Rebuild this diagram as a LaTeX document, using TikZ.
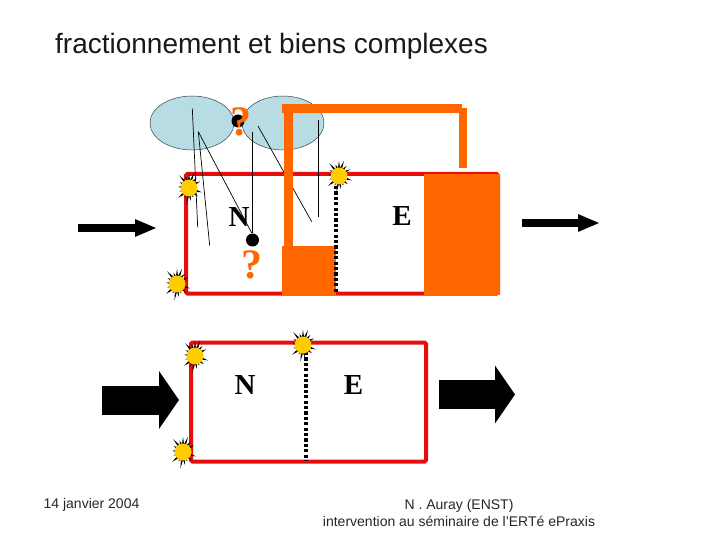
\documentclass[tikz,border=0pt]{standalone}
\usepackage{fontspec}
\setmainfont{Liberation Sans}
\newfontfamily\serifb{Liberation Serif}[BoldFont={Liberation Serif Bold}]
\usetikzlibrary{shapes.symbols,shapes.geometric,arrows.meta}
\definecolor{redl}{HTML}{E60D0D}
\definecolor{orangef}{HTML}{FF6600}
\definecolor{cellb}{HTML}{B8DCE4}
\definecolor{sun}{HTML}{FFCC00}
\tikzset{
  redbox/.style={draw=redl,line width=4pt,rounded corners=1.5pt},
  orangeblock/.style={fill=orangef,draw=none},
  orangeline/.style={draw=orangef,line width=8.5pt},
  cell/.style={ellipse,draw=black!70!cellb,line width=0.5pt,fill=cellb,inner sep=0pt},
  thinl/.style={draw=black,line width=0.7pt},
  bound/.style={draw=black,line width=4pt,dash pattern=on 3.2pt off 2.2pt},
  core/.style={circle,fill=sun,draw=none,minimum size=17pt,inner sep=0pt},
  burst/.style={starburst,starburst points=17,starburst point height=8pt,fill=sun,draw=black,line width=0.7pt,minimum width=25pt,minimum height=30pt,inner sep=0pt,
    append after command={node[core] at (\tikzlastnode.center) {}}},
  letter/.style={font=\serifb\bfseries\fontsize{29}{29}\selectfont,text=black,inner sep=0pt},
  query/.style={font=\serifb\bfseries\fontsize{42}{42}\selectfont,text=orangef,inner sep=0pt},
  foot/.style={font=\fontsize{14}{17}\selectfont,text=black!85,inner sep=0pt,align=center},
  thinarrow/.style={draw=black,line width=7.5pt,-{Triangle[length=22pt,width=16pt]}},
  bigarrow/.style={draw=black,line width=29pt,-{Triangle[length=20pt,width=57pt]}},
  dot/.style={circle,fill=black,inner sep=0pt,minimum size=13pt}
}
\begin{document}
\begin{tikzpicture}[x=1pt,y=-1pt]
\useasboundingbox (0,0) rectangle (720,540);
\node[inner sep=0pt,font=\fontsize{28}{32}\selectfont,text=black!90] (title) at (271.5,46) {fractionnement et biens complexes};
% cells
\node[cell,minimum width=84pt,minimum height=54pt] (cellL) at (192,123) {};
\node[cell,minimum width=82pt,minimum height=54pt] (cellR) at (283,123) {};
\node[circle,fill=black,inner sep=0pt,minimum size=13pt] (dotT) at (238,121) {};
\node[query] (qT) at (241,121.5) {?};
% upper frame
\draw[redbox] (186,174) rectangle (498,293.5);
\coordinate (a1) at (192.3,108.3); \coordinate (a2) at (197.7,227.3);
\coordinate (b1) at (198.3,131.7); \coordinate (b2) at (209.7,245.7);
\coordinate (c2) at (251.7,233);
\coordinate (d1) at (252.7,131.7); \coordinate (d2) at (252.7,233);
\coordinate (e1) at (258,126); \coordinate (e2) at (311.7,221.7);
\coordinate (f1) at (318.3,120); \coordinate (f2) at (318.3,216.7);
\node[letter] (N1) at (239,217) {N};
\draw[thinl] (a1)--(a2);
\draw[thinl] (b1)--(b2);
\draw[thinl] (b1)--(c2);
\draw[thinl] (d1)--(d2);
\draw[thinl] (e1)--(e2);
\draw[thinl] (f1)--(f2);
\node[letter] (E1) at (402,216) {E};
\node[dot] (dotB) at (252.5,240) {};
\node[query] (qB) at (252,265) {?};
% orange
\fill[orangeblock] (424,174) rectangle (500,295);
\fill[orangeblock] (282,246) rectangle (336,295);
\draw[orangeline] (288.5,246) -- (288.5,104);
\fill[orangeblock] (282,104) rectangle (462,113);
\draw[orangeline] (463,108) -- (463,168);
% boundaries
\coordinate (u1) at (336,186); \coordinate (u2) at (336,293);
\draw[bound] (u1)--(u2);
\coordinate (v1) at (305.5,352); \coordinate (v2) at (305.5,461);
% lower frame
\draw[redbox] (191,342.5) rectangle (426,461.5);
\draw[bound] (v1)--(v2);
\node[letter] (N2) at (245,385) {N};
\node[letter] (E2) at (353.5,385) {E};
% bursts
\node[burst] (s1) at (189,188) {};
\node[burst] (s2) at (177,284) {};
\node[burst] (s3) at (339,176) {};
\node[burst] (s4) at (195,356) {};
\node[burst] (s5) at (183,452) {};
\node[burst] (s6) at (303,345) {};
% arrows
\coordinate (p1) at (78,228); \coordinate (p2) at (157,228);
\coordinate (q1) at (522,223); \coordinate (q2) at (600,223);
\coordinate (r1) at (102,400); \coordinate (r2) at (179,400);
\coordinate (t1) at (439,394.5); \coordinate (t2) at (515,394.5);
\draw[thinarrow] (p1)--(p2);
\draw[thinarrow] (q1)--(q2);
\draw[bigarrow] (r1)--(r2);
\draw[bigarrow] (t1)--(t2);
% footer
\node[foot] (date) at (91.5,504.5) {14 janvier 2004};
\node[foot] (auth) at (459,513) {N . Auray (ENST)\\intervention au séminaire de l'ERTé ePraxis};
\end{tikzpicture}
\end{document}
